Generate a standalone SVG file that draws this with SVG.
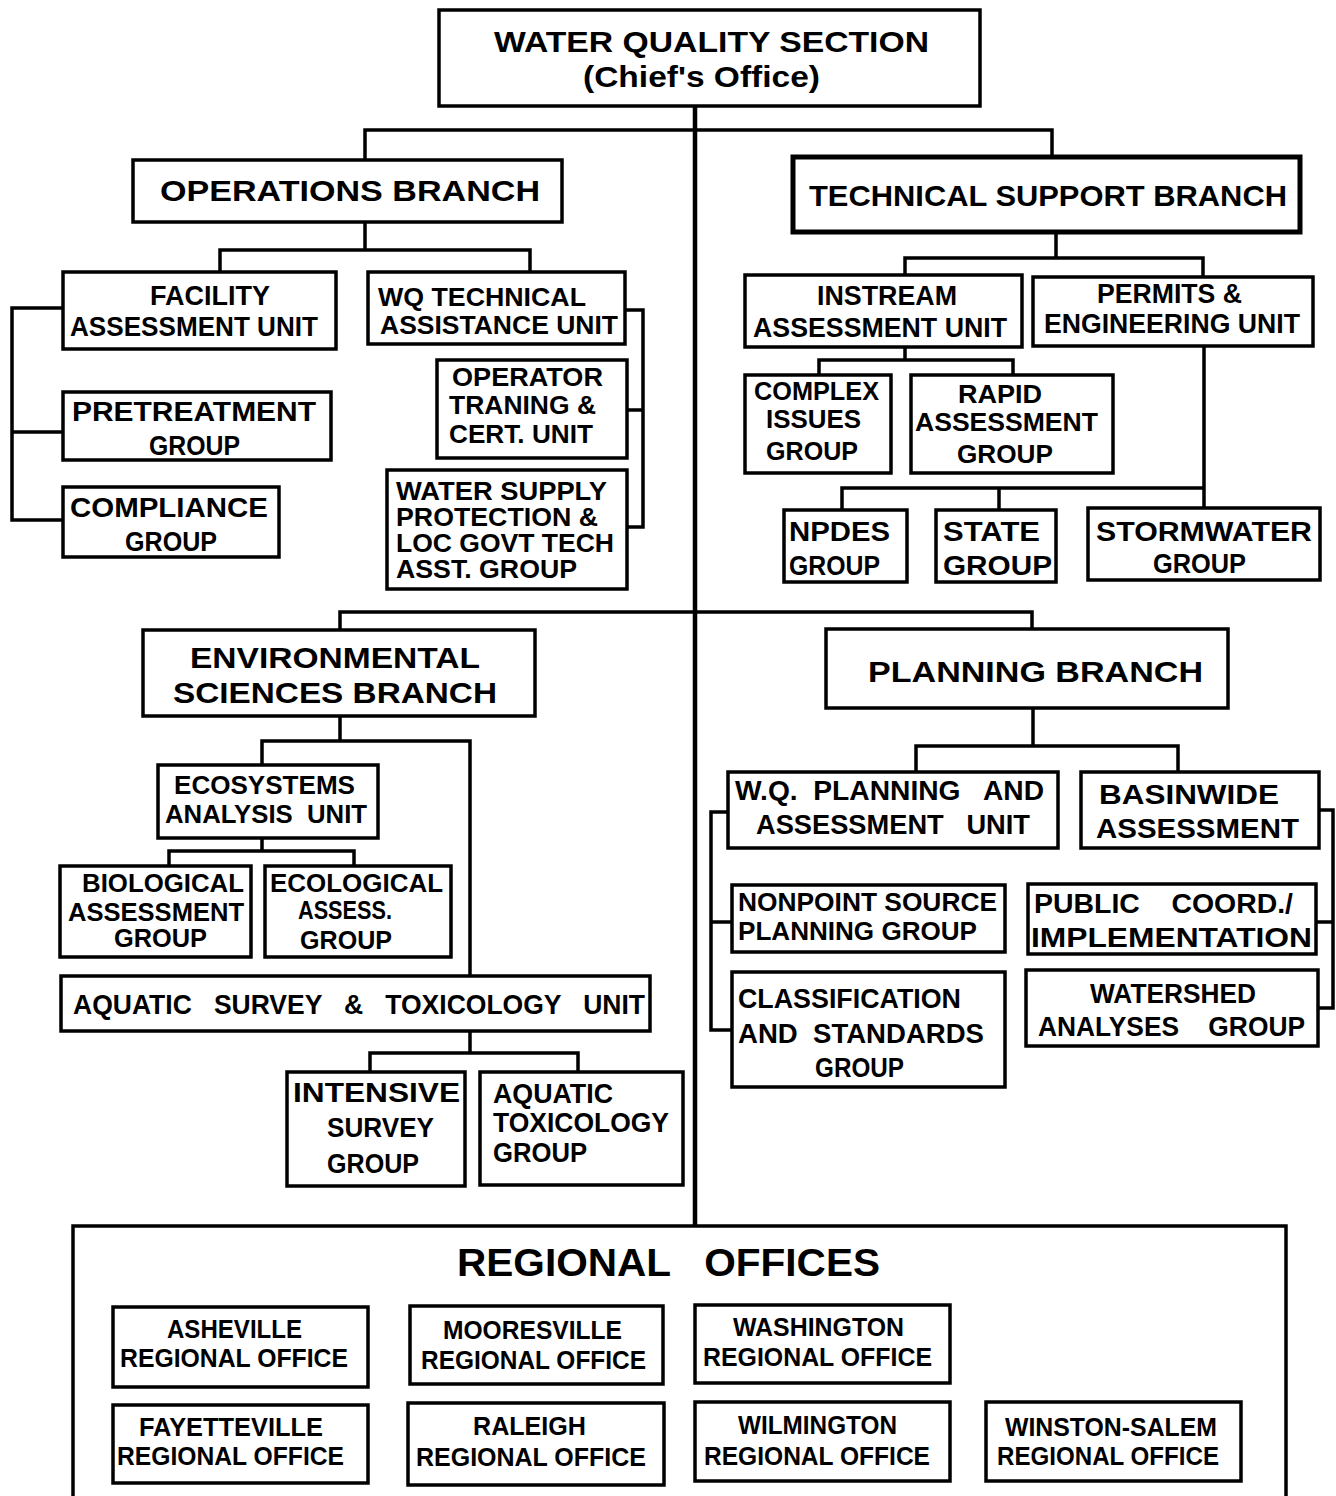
<svg xmlns="http://www.w3.org/2000/svg" width="1336" height="1496" viewBox="0 0 1336 1496">
<style>
.b{fill:#fff;stroke:#000;stroke-width:3.5}
.bt{fill:#fff;stroke:#000;stroke-width:5}
.c{fill:none;stroke:#000;stroke-width:3.5}
text{font-family:"Liberation Sans",Arial,sans-serif;font-weight:bold;fill:#000}
.p{white-space:pre}
.s22{font-size:23px}.s25{font-size:25px}.s27{font-size:27px}.s30{font-size:30px}.s38{font-size:38px}
</style>
<rect width="1336" height="1496" fill="#fff"/>
<g id="connectors">
<path class="c" style="stroke-width:4.5" d="M695 106V1227"/>
<path class="c" d="M365 160V130H1052V157"/>
<path class="c" d="M365 222V250M220 272V250H530V272"/>
<path class="c" d="M1056 232V258M905 275V258H1203V277"/>
<path class="c" d="M63 308H12V520H63M12 432H63"/>
<path class="c" d="M625 310H643V527H627M627 410H643"/>
<path class="c" d="M905 347V360M819 375V360H1013V375"/>
<path class="c" d="M1204 346V508M842 510V488H1204M999 488V510"/>
<path class="c" d="M340 630V612H1032V629"/>
<path class="c" d="M340 716V741M262 765V741H470V976"/>
<path class="c" d="M262 838V851M169 866V851H354V866"/>
<path class="c" d="M470 1031V1053M370 1072V1053H578V1072"/>
<path class="c" d="M1033 708V746M916 772V746H1178V772"/>
<path class="c" d="M728 812H711V1030H732M711 922H732"/>
<path class="c" d="M1319 810H1333V1008H1318M1316 922H1333"/>
</g>
<g id="chief"><rect class="b" x="439" y="10" width="541" height="96"/>
<text class="s30" x="494" y="52" textLength="435" lengthAdjust="spacingAndGlyphs">WATER QUALITY SECTION</text>
<text class="s30" x="583" y="87" textLength="237" lengthAdjust="spacingAndGlyphs">(Chief's Office)</text></g>
<g id="ops"><rect class="b" x="133" y="160" width="429" height="62"/>
<text class="s30" x="160" y="201" textLength="380" lengthAdjust="spacingAndGlyphs">OPERATIONS BRANCH</text></g>
<g id="tech"><rect class="bt" x="793" y="157" width="507" height="75"/>
<text class="s30" x="809" y="206" textLength="478" lengthAdjust="spacingAndGlyphs">TECHNICAL SUPPORT BRANCH</text></g>
<g id="facility"><rect class="b" x="63" y="272" width="273" height="77"/>
<text class="s27" x="150" y="305" textLength="120" lengthAdjust="spacingAndGlyphs">FACILITY</text>
<text class="s27" x="70" y="336" textLength="248" lengthAdjust="spacingAndGlyphs">ASSESSMENT UNIT</text></g>
<g id="wqtech"><rect class="b" x="368" y="272" width="257" height="72"/>
<text class="s25" x="378" y="306" textLength="208" lengthAdjust="spacingAndGlyphs">WQ TECHNICAL</text>
<text class="s25" x="380" y="334" textLength="238" lengthAdjust="spacingAndGlyphs">ASSISTANCE UNIT</text></g>
<g id="pretreat"><rect class="b" x="63" y="392" width="268" height="68"/>
<text class="s27" x="72" y="421" textLength="244" lengthAdjust="spacingAndGlyphs">PRETREATMENT</text>
<text class="s27" x="149" y="455" textLength="91" lengthAdjust="spacingAndGlyphs">GROUP</text></g>
<g id="operator"><rect class="b" x="437" y="360" width="190" height="98"/>
<text class="s25" x="452" y="386" textLength="151" lengthAdjust="spacingAndGlyphs">OPERATOR</text>
<text class="s25" x="449" y="414" textLength="147" lengthAdjust="spacingAndGlyphs">TRANING &amp;</text>
<text class="s25" x="449" y="443" textLength="144" lengthAdjust="spacingAndGlyphs">CERT. UNIT</text></g>
<g id="compliance"><rect class="b" x="63" y="487" width="216" height="70"/>
<text class="s27" x="70" y="517" textLength="198" lengthAdjust="spacingAndGlyphs">COMPLIANCE</text>
<text class="s27" x="125" y="551" textLength="92" lengthAdjust="spacingAndGlyphs">GROUP</text></g>
<g id="watersupply"><rect class="b" x="387" y="470" width="240" height="119"/>
<text class="s25" x="396" y="500" textLength="211" lengthAdjust="spacingAndGlyphs">WATER SUPPLY</text>
<text class="s25" x="396" y="526" textLength="202" lengthAdjust="spacingAndGlyphs">PROTECTION &amp;</text>
<text class="s25" x="396" y="552" textLength="218" lengthAdjust="spacingAndGlyphs">LOC GOVT TECH</text>
<text class="s25" x="396" y="578" textLength="181" lengthAdjust="spacingAndGlyphs">ASST. GROUP</text></g>
<g id="instream"><rect class="b" x="745" y="275" width="277" height="72"/>
<text class="s27" x="817" y="305" textLength="140" lengthAdjust="spacingAndGlyphs">INSTREAM</text>
<text class="s27" x="753" y="337" textLength="254" lengthAdjust="spacingAndGlyphs">ASSESSMENT UNIT</text></g>
<g id="permits"><rect class="b" x="1033" y="277" width="280" height="69"/>
<text class="s27" x="1097" y="303" textLength="145" lengthAdjust="spacingAndGlyphs">PERMITS &amp;</text>
<text class="s27" x="1044" y="333" textLength="256" lengthAdjust="spacingAndGlyphs">ENGINEERING UNIT</text></g>
<g id="complex"><rect class="b" x="745" y="375" width="146" height="98"/>
<text class="s25" x="754" y="400" textLength="125" lengthAdjust="spacingAndGlyphs">COMPLEX</text>
<text class="s25" x="766" y="428" textLength="95" lengthAdjust="spacingAndGlyphs">ISSUES</text>
<text class="s25" x="766" y="460" textLength="92" lengthAdjust="spacingAndGlyphs">GROUP</text></g>
<g id="rapid"><rect class="b" x="911" y="375" width="202" height="98"/>
<text class="s25" x="958" y="403" textLength="84" lengthAdjust="spacingAndGlyphs">RAPID</text>
<text class="s25" x="915" y="431" textLength="183" lengthAdjust="spacingAndGlyphs">ASSESSMENT</text>
<text class="s25" x="957" y="463" textLength="96" lengthAdjust="spacingAndGlyphs">GROUP</text></g>
<g id="npdes"><rect class="b" x="784" y="510" width="123" height="72"/>
<text class="s27" x="789" y="541" textLength="101" lengthAdjust="spacingAndGlyphs">NPDES</text>
<text class="s27" x="789" y="575" textLength="91" lengthAdjust="spacingAndGlyphs">GROUP</text></g>
<g id="state"><rect class="b" x="936" y="510" width="120" height="72"/>
<text class="s27" x="943" y="541" textLength="97" lengthAdjust="spacingAndGlyphs">STATE</text>
<text class="s27" x="943" y="575" textLength="109" lengthAdjust="spacingAndGlyphs">GROUP</text></g>
<g id="stormwater"><rect class="b" x="1088" y="508" width="232" height="72"/>
<text class="s27" x="1096" y="541" textLength="216" lengthAdjust="spacingAndGlyphs">STORMWATER</text>
<text class="s27" x="1153" y="573" textLength="93" lengthAdjust="spacingAndGlyphs">GROUP</text></g>
<g id="envsci"><rect class="b" x="143" y="630" width="392" height="86"/>
<text class="s30" x="190" y="668" textLength="290" lengthAdjust="spacingAndGlyphs">ENVIRONMENTAL</text>
<text class="s30" x="173" y="703" textLength="324" lengthAdjust="spacingAndGlyphs">SCIENCES BRANCH</text></g>
<g id="planning"><rect class="b" x="826" y="629" width="402" height="79"/>
<text class="s30" x="868" y="682" textLength="335" lengthAdjust="spacingAndGlyphs">PLANNING BRANCH</text></g>
<g id="ecosystems"><rect class="b" x="158" y="765" width="220" height="73"/>
<text class="s25" x="174" y="794" textLength="181" lengthAdjust="spacingAndGlyphs">ECOSYSTEMS</text>
<text class="s25 p" x="165" y="823" textLength="202" lengthAdjust="spacingAndGlyphs">ANALYSIS  UNIT</text></g>
<g id="biological"><rect class="b" x="60" y="866" width="191" height="91"/>
<text class="s25" x="82" y="892" textLength="162" lengthAdjust="spacingAndGlyphs">BIOLOGICAL</text>
<text class="s25" x="68" y="921" textLength="176" lengthAdjust="spacingAndGlyphs">ASSESSMENT</text>
<text class="s25" x="114" y="947" textLength="93" lengthAdjust="spacingAndGlyphs">GROUP</text></g>
<g id="ecological"><rect class="b" x="265" y="866" width="186" height="91"/>
<text class="s25" x="270" y="892" textLength="173" lengthAdjust="spacingAndGlyphs">ECOLOGICAL</text>
<text class="s25" x="298" y="919" textLength="94" lengthAdjust="spacingAndGlyphs">ASSESS.</text>
<text class="s25" x="300" y="949" textLength="92" lengthAdjust="spacingAndGlyphs">GROUP</text></g>
<g id="aquaticunit"><rect class="b" x="61" y="976" width="589" height="55"/>
<text class="s27 p" x="73" y="1014" textLength="572" lengthAdjust="spacingAndGlyphs">AQUATIC   SURVEY   &amp;   TOXICOLOGY   UNIT</text></g>
<g id="intensive"><rect class="b" x="287" y="1072" width="178" height="114"/>
<text class="s27" x="293" y="1102" textLength="167" lengthAdjust="spacingAndGlyphs">INTENSIVE</text>
<text class="s27" x="327" y="1137" textLength="107" lengthAdjust="spacingAndGlyphs">SURVEY</text>
<text class="s27" x="327" y="1173" textLength="92" lengthAdjust="spacingAndGlyphs">GROUP</text></g>
<g id="aquatictox"><rect class="b" x="480" y="1072" width="203" height="113"/>
<text class="s27" x="493" y="1103" textLength="120" lengthAdjust="spacingAndGlyphs">AQUATIC</text>
<text class="s27" x="493" y="1132" textLength="176" lengthAdjust="spacingAndGlyphs">TOXICOLOGY</text>
<text class="s27" x="493" y="1162" textLength="94" lengthAdjust="spacingAndGlyphs">GROUP</text></g>
<g id="wqplanning"><rect class="b" x="728" y="772" width="330" height="76"/>
<text class="s27 p" x="735" y="800" textLength="309" lengthAdjust="spacingAndGlyphs">W.Q.  PLANNING   AND</text>
<text class="s27 p" x="756" y="834" textLength="274" lengthAdjust="spacingAndGlyphs">ASSESSMENT   UNIT</text></g>
<g id="basinwide"><rect class="b" x="1081" y="772" width="238" height="76"/>
<text class="s27" x="1099" y="804" textLength="180" lengthAdjust="spacingAndGlyphs">BASINWIDE</text>
<text class="s27" x="1096" y="838" textLength="203" lengthAdjust="spacingAndGlyphs">ASSESSMENT</text></g>
<g id="nonpoint"><rect class="b" x="732" y="885" width="273" height="67"/>
<text class="s25" x="738" y="911" textLength="259" lengthAdjust="spacingAndGlyphs">NONPOINT SOURCE</text>
<text class="s25" x="738" y="940" textLength="239" lengthAdjust="spacingAndGlyphs">PLANNING GROUP</text></g>
<g id="classification"><rect class="b" x="732" y="972" width="273" height="115"/>
<text class="s27" x="738" y="1008" textLength="223" lengthAdjust="spacingAndGlyphs">CLASSIFICATION</text>
<text class="s27 p" x="738" y="1043" textLength="246" lengthAdjust="spacingAndGlyphs">AND  STANDARDS</text>
<text class="s27" x="815" y="1077" textLength="89" lengthAdjust="spacingAndGlyphs">GROUP</text></g>
<g id="public"><rect class="b" x="1028" y="884" width="288" height="70"/>
<text class="s27 p" x="1034" y="913" textLength="259" lengthAdjust="spacingAndGlyphs">PUBLIC    COORD./</text>
<text class="s27" x="1031" y="947" textLength="281" lengthAdjust="spacingAndGlyphs">IMPLEMENTATION</text></g>
<g id="watershed"><rect class="b" x="1026" y="970" width="292" height="76"/>
<text class="s27" x="1090" y="1003" textLength="166" lengthAdjust="spacingAndGlyphs">WATERSHED</text>
<text class="s27 p" x="1038" y="1036" textLength="267" lengthAdjust="spacingAndGlyphs">ANALYSES    GROUP</text></g>
<g id="regional"><rect class="b" x="73" y="1226" width="1213" height="290"/>
<text class="s38 p" x="457" y="1276" textLength="423" lengthAdjust="spacingAndGlyphs">REGIONAL   OFFICES</text></g>
<g id="asheville"><rect class="b" x="113" y="1307" width="255" height="80"/>
<text class="s25" x="167" y="1338" textLength="135" lengthAdjust="spacingAndGlyphs">ASHEVILLE</text>
<text class="s25" x="120" y="1367" textLength="228" lengthAdjust="spacingAndGlyphs">REGIONAL OFFICE</text></g>
<g id="mooresville"><rect class="b" x="410" y="1306" width="253" height="78"/>
<text class="s25" x="443" y="1339" textLength="179" lengthAdjust="spacingAndGlyphs">MOORESVILLE</text>
<text class="s25" x="421" y="1369" textLength="225" lengthAdjust="spacingAndGlyphs">REGIONAL OFFICE</text></g>
<g id="washington"><rect class="b" x="695" y="1305" width="255" height="78"/>
<text class="s25" x="733" y="1336" textLength="171" lengthAdjust="spacingAndGlyphs">WASHINGTON</text>
<text class="s25" x="703" y="1366" textLength="229" lengthAdjust="spacingAndGlyphs">REGIONAL OFFICE</text></g>
<g id="fayetteville"><rect class="b" x="113" y="1405" width="255" height="78"/>
<text class="s25" x="139" y="1436" textLength="184" lengthAdjust="spacingAndGlyphs">FAYETTEVILLE</text>
<text class="s25" x="117" y="1465" textLength="227" lengthAdjust="spacingAndGlyphs">REGIONAL OFFICE</text></g>
<g id="raleigh"><rect class="b" x="408" y="1403" width="256" height="82"/>
<text class="s25" x="473" y="1435" textLength="113" lengthAdjust="spacingAndGlyphs">RALEIGH</text>
<text class="s25" x="416" y="1466" textLength="230" lengthAdjust="spacingAndGlyphs">REGIONAL OFFICE</text></g>
<g id="wilmington"><rect class="b" x="695" y="1402" width="255" height="79"/>
<text class="s25" x="738" y="1434" textLength="159" lengthAdjust="spacingAndGlyphs">WILMINGTON</text>
<text class="s25" x="704" y="1465" textLength="226" lengthAdjust="spacingAndGlyphs">REGIONAL OFFICE</text></g>
<g id="winstonsalem"><rect class="b" x="986" y="1402" width="255" height="79"/>
<text class="s25" x="1005" y="1436" textLength="212" lengthAdjust="spacingAndGlyphs">WINSTON-SALEM</text>
<text class="s25" x="997" y="1465" textLength="222" lengthAdjust="spacingAndGlyphs">REGIONAL OFFICE</text></g>
</svg>
